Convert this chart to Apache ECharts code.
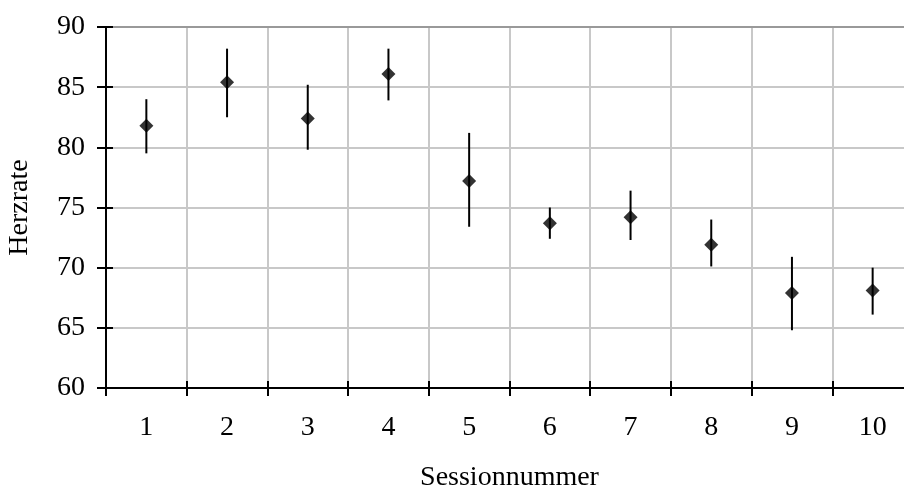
<!DOCTYPE html>
<html>
<head>
<meta charset="utf-8">
<script src="https://cdn.jsdelivr.net/npm/echarts@6/dist/echarts.min.js"></script>
<style>html,body{margin:0;padding:0;background:#fff;}#chart{width:904px;height:490px;}</style>
</head>
<body>
<div id="chart"></div>
<script>
const categories = ['1','2','3','4','5','6','7','8','9','10'];
const meanValues  = [81.8, 85.4, 82.4, 86.1, 77.2, 73.7, 74.2, 71.9, 67.9, 68.1];
const upperValues = [84.0, 88.2, 85.2, 88.2, 81.2, 75.0, 76.4, 74.0, 70.9, 70.0];
const lowerValues = [79.5, 82.5, 79.8, 83.9, 73.4, 72.4, 72.3, 70.1, 64.8, 66.1];
const yMin = 60, yMax = 90, yStep = 5;
const xTitle = 'Sessionnummer';
const yTitle = 'Herzrate';

const font = 'Liberation Serif';
const chart = echarts.init(document.getElementById('chart'), null, {renderer: 'canvas'});
const errData = categories.map((c, i) => [i, lowerValues[i], upperValues[i]]);

chart.setOption({
  animation: false,
  backgroundColor: '#fff',
  grid: {left: 106, top: 27, right: -9, bottom: 102, containLabel: false, outerBoundsMode: 'none'},
  xAxis: [
    {
      type: 'category', data: categories, position: 'bottom', boundaryGap: true,
      axisLine: {lineStyle: {color: '#000', width: 2}},
      axisTick: {show: true, length: 8, lineStyle: {color: '#000', width: 2}},
      axisLabel: {fontFamily: font, fontSize: 28, color: '#000', margin: 26},
      splitLine: {show: true, lineStyle: {color: '#c8c8c8', width: 2}},
      name: xTitle, nameLocation: 'middle', nameGap: 76,
      nameTextStyle: {fontFamily: font, fontSize: 28, color: '#000'}
    },
    {
      type: 'category', data: categories, position: 'bottom', boundaryGap: true,
      axisLine: {lineStyle: {color: '#000', width: 2}},
      axisTick: {show: true, inside: true, length: 7, lineStyle: {color: '#000', width: 2}},
      axisLabel: {show: false}, splitLine: {show: false}
    },
    {
      type: 'category', data: categories, position: 'top', boundaryGap: true,
      axisLine: {lineStyle: {color: '#999', width: 2}},
      axisTick: {show: false}, axisLabel: {show: false}, splitLine: {show: false}
    }
  ],
  yAxis: [
    {
      type: 'value', min: yMin, max: yMax, interval: yStep, position: 'left',
      axisLine: {show: true, onZero: false, lineStyle: {color: '#000', width: 2}},
      axisTick: {show: true, length: 9, lineStyle: {color: '#000', width: 2}},
      axisLabel: {fontFamily: font, fontSize: 28, color: '#000', margin: 21},
      splitLine: {show: true, lineStyle: {color: '#c8c8c8', width: 2}},
      name: yTitle, nameLocation: 'middle', nameGap: 72, nameRotate: 90,
      nameTextStyle: {fontFamily: font, fontSize: 28, color: '#000'}
    },
    {
      type: 'value', min: yMin, max: yMax, interval: yStep, position: 'left',
      axisLine: {show: true, onZero: false, lineStyle: {color: '#000', width: 2}},
      axisTick: {show: true, inside: true, length: 7, lineStyle: {color: '#000', width: 2}},
      axisLabel: {show: false}, splitLine: {show: false}
    }
  ],
  series: [
    {
      type: 'custom', xAxisIndex: 0, yAxisIndex: 0, data: errData, z: 3,
      renderItem: function (params, api) {
        const x = api.value(0);
        const lo = api.coord([x, api.value(1)]);
        const hi = api.coord([x, api.value(2)]);
        return {
          type: 'line',
          shape: {x1: lo[0], y1: lo[1], x2: hi[0], y2: hi[1]},
          style: {stroke: '#000', lineWidth: 2}
        };
      }
    },
    {
      type: 'scatter', xAxisIndex: 0, yAxisIndex: 0, data: meanValues, z: 4,
      symbol: 'diamond', symbolSize: 14,
      itemStyle: {color: '#000'}
    }
  ]
});
</script>
</body>
</html>
